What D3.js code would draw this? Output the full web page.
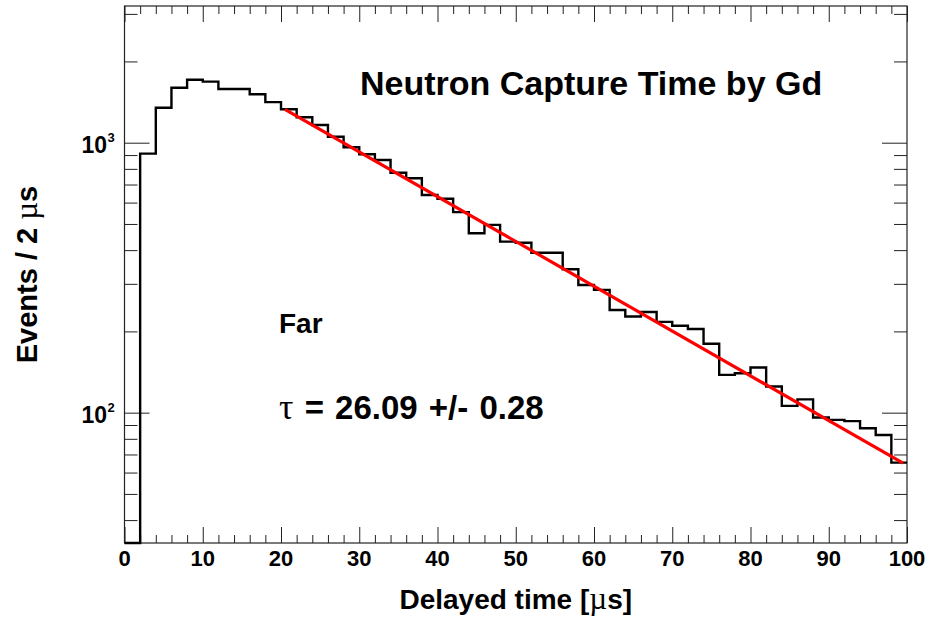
<!DOCTYPE html>
<html>
<head>
<meta charset="utf-8">
<script src="https://cdn.jsdelivr.net/npm/d3@7"></script>
<style>
  body { margin: 0; background: #fff; }
  text { font-family: "Liberation Sans", Arial, Helvetica, sans-serif; font-weight: bold; fill: #000; }
  .greek { font-family: "Liberation Serif", "Times New Roman", serif; font-weight: normal; }
</style>
</head>
<body>
<svg id="chart" width="935" height="617"></svg>
<script>
// histogram contents, 2 us bins from 0 to 100 us
const binWidth = 2;
const counts = [
  0, 911, 1348, 1598, 1711, 1683, 1581, 1581, 1511, 1414,
  1330, 1242, 1163, 1052, 962, 906, 863, 774, 738, 640,
  620, 553, 462, 496, 430, 426, 391, 391, 340, 297,
  285, 240, 227, 236, 217, 210, 204, 180, 138, 140,
  147, 125, 106, 112, 96, 94, 93, 87.5, 82.6, 65.3,
];

// exponential fit, straight on log scale: end points
const fitPoints = [
  { t: 20.5, n: 1330 },
  { t: 99.5, n: 65 },
];

const xMajorTicks = [0, 10, 20, 30, 40, 50, 60, 70, 80, 90, 100];
const xTickLabels = ["0", "10", "20", "30", "40", "50", "60", "70", "80", "90", "100"];
const yMajorTicks = [100, 1000];
const yTickExponents = ["2", "3"];
const yMinorTicks = [40, 50, 60, 70, 80, 90, 200, 300, 400, 500, 600, 700, 800, 900, 2000, 3000];

const title = "Neutron Capture Time by Gd";
const siteLabel = "Far";
const tauSymbol = "τ";
const tauValue = " = 26.09 +/- 0.28";
const xTitle = ["Delayed time [", "µ", "s]"];
const yTitle = ["Events / 2 ", "µ", "s"];

const svg = d3.select("svg#chart");
const frameLeft = 124.5, frameRight = 907, frameTop = 6, frameBottom = 543;

const x = d3.scaleLinear().domain([0, 100]).range([frameLeft, frameRight]);
const y = d3.scaleLog().domain([32.9, 3209]).range([frameBottom, frameTop]);

// ticks on all four sides
const xMinorTicks = d3.range(0, 101, 2).filter((v) => v % 10 !== 0);
function tickAxis(axis, values, size, transform) {
  const g = svg
    .append("g")
    .attr("transform", transform)
    .call(axis.tickValues(values).tickSize(size).tickSizeOuter(0).tickFormat(""));
  g.select(".domain").remove();
  g.selectAll("line").attr("stroke", "#222").attr("stroke-width", 1);
}
tickAxis(d3.axisBottom(x), xMajorTicks, -16, `translate(0,${frameBottom})`);
tickAxis(d3.axisBottom(x), xMinorTicks, -8, `translate(0,${frameBottom})`);
tickAxis(d3.axisTop(x), xMajorTicks, -16, `translate(0,${frameTop})`);
tickAxis(d3.axisTop(x), xMinorTicks, -8, `translate(0,${frameTop})`);
tickAxis(d3.axisLeft(y), yMajorTicks, -25, `translate(${frameLeft},0)`);
tickAxis(d3.axisLeft(y), yMinorTicks, -13, `translate(${frameLeft},0)`);
tickAxis(d3.axisRight(y), yMajorTicks, -25, `translate(${frameRight},0)`);
tickAxis(d3.axisRight(y), yMinorTicks, -13, `translate(${frameRight},0)`);

// frame
svg
  .append("rect")
  .attr("x", frameLeft)
  .attr("y", frameTop)
  .attr("width", frameRight - frameLeft)
  .attr("height", frameBottom - frameTop)
  .attr("fill", "none")
  .attr("stroke", "#222")
  .attr("stroke-width", 1.2);

// histogram outline
const yMin = y.domain()[0];
const steps = counts.map((c, i) => [i * binWidth, Math.max(c, yMin)]);
steps.push([counts.length * binWidth, Math.max(counts[counts.length - 1], yMin)]);
svg
  .append("path")
  .attr(
    "d",
    d3
      .line()
      .x((d) => x(d[0]))
      .y((d) => y(d[1]))
      .curve(d3.curveStepAfter)(steps)
  )
  .attr("fill", "none")
  .attr("stroke", "#000")
  .attr("stroke-width", 2.4);

// fit
svg
  .append("path")
  .attr(
    "d",
    d3
      .line()
      .x((d) => x(d.t))
      .y((d) => y(d.n))(fitPoints)
  )
  .attr("fill", "none")
  .attr("stroke", "#ff0000")
  .attr("stroke-width", 3.2);

// tick labels
svg
  .append("g")
  .selectAll("text")
  .data(xMajorTicks)
  .join("text")
  .attr("x", (d) => x(d))
  .attr("y", 566)
  .attr("text-anchor", "middle")
  .attr("font-size", 22)
  .text((d, i) => xTickLabels[i]);

const yLabels = svg.append("g").selectAll("g").data(yMajorTicks).join("g");
yLabels
  .append("text")
  .attr("x", 107)
  .attr("y", (d) => y(d) + 10)
  .attr("text-anchor", "end")
  .attr("font-size", 23)
  .text("10");
yLabels
  .append("text")
  .attr("x", 107.5)
  .attr("y", (d) => y(d) - 1)
  .attr("font-size", 13)
  .text((d, i) => yTickExponents[i]);

// axis titles, the mu drawn in the symbol face
function titleParts(sel, parts) {
  sel
    .selectAll("tspan")
    .data(parts)
    .join("tspan")
    .attr("class", (d, i) => (i === 1 ? "greek" : null))
    .attr("font-size", (d, i) => (i === 1 ? 31 : null))
    .text((d) => d);
}
svg
  .append("text")
  .attr("x", (frameLeft + frameRight) / 2)
  .attr("y", 609)
  .attr("text-anchor", "middle")
  .attr("font-size", 28)
  .call(titleParts, xTitle);
svg
  .append("text")
  .attr("transform", `translate(37,${(frameTop + frameBottom) / 2}) rotate(-90)`)
  .attr("text-anchor", "middle")
  .attr("font-size", 29)
  .call(titleParts, yTitle);

// annotations
svg
  .append("text")
  .attr("x", 360)
  .attr("y", 95)
  .attr("font-size", 34)
  .text(title);
svg.append("text").attr("x", 279).attr("y", 333).attr("font-size", 28).text(siteLabel);
const tau = svg
  .append("text")
  .attr("x", 279)
  .attr("y", 419)
  .attr("font-size", 33)
  .attr("word-spacing", 2);
tau.append("tspan").attr("class", "greek").attr("font-size", 36).text(tauSymbol);
tau.append("tspan").text(tauValue);
</script>
</body>
</html>
